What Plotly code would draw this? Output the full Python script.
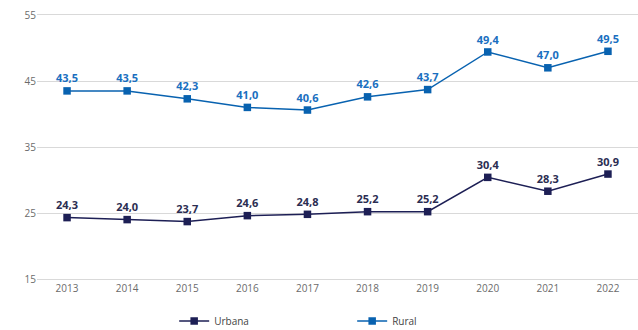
import plotly.graph_objects as go

years = ["2013", "2014", "2015", "2016", "2017", "2018", "2019", "2020", "2021", "2022"]
urbana = [24.3, 24.0, 23.7, 24.6, 24.8, 25.2, 25.2, 30.4, 28.3, 30.9]
rural = [43.5, 43.5, 42.3, 41.0, 40.6, 42.6, 43.7, 49.4, 47.0, 49.5]
y_ticks = [15, 25, 35, 45, 55]

URB_COLOR = "#1d1f55"
RUR_COLOR = "#0862b0"
GRID = "#d9d9d9"


def fmt(v):
    return f"{v:.1f}".replace(".", ",")


fig = go.Figure()
fig.add_trace(go.Scatter(
    x=years, y=urbana, name="Urbana", mode="lines+markers+text",
    line=dict(color=URB_COLOR, width=1.5),
    marker=dict(symbol="square", size=7.5, color=URB_COLOR),
    text=[fmt(v) for v in urbana], textposition="top center",
    textfont=dict(family="Open Sans", size=11, color="#2b2d52", weight="bold"),
))
fig.add_trace(go.Scatter(
    x=years, y=rural, name="Rural", mode="lines+markers+text",
    line=dict(color=RUR_COLOR, width=1.5),
    marker=dict(symbol="square", size=7.5, color=RUR_COLOR),
    text=[fmt(v) for v in rural], textposition="top center",
    textfont=dict(family="Open Sans", size=11, color="#1a6fc0", weight="bold"),
))

fig.update_layout(
    width=638, height=330,
    margin=dict(l=37, r=0, t=15, b=51),
    paper_bgcolor="white", plot_bgcolor="white",
    font=dict(family="Open Sans", size=10, color="#666666"),
    showlegend=True,
    legend=dict(
        orientation="h", xref="container", yref="container",
        x=0.273, xanchor="left", y=0.027, yanchor="middle",
        entrywidth=133, entrywidthmode="pixels",
        font=dict(family="Open Sans", size=10, color="#444444"),
        itemwidth=30,
    ),
    xaxis=dict(
        type="category", range=[-0.5, 9.5], showgrid=False, zeroline=False,
        # top/bottom borders double as the 55 and 15 gridlines
        showline=True, mirror=True, linecolor=GRID, linewidth=1,
        ticks="", tickfont=dict(size=10, color="#6b6b6b"),
    ),
    yaxis=dict(
        range=[15, 55], tickvals=y_ticks, showgrid=True, gridcolor=GRID,
        gridwidth=1, zeroline=False, showline=False, ticks="",
        tickfont=dict(size=10, color="#6b6b6b"),
    ),
)

fig.write_html("out.html")
